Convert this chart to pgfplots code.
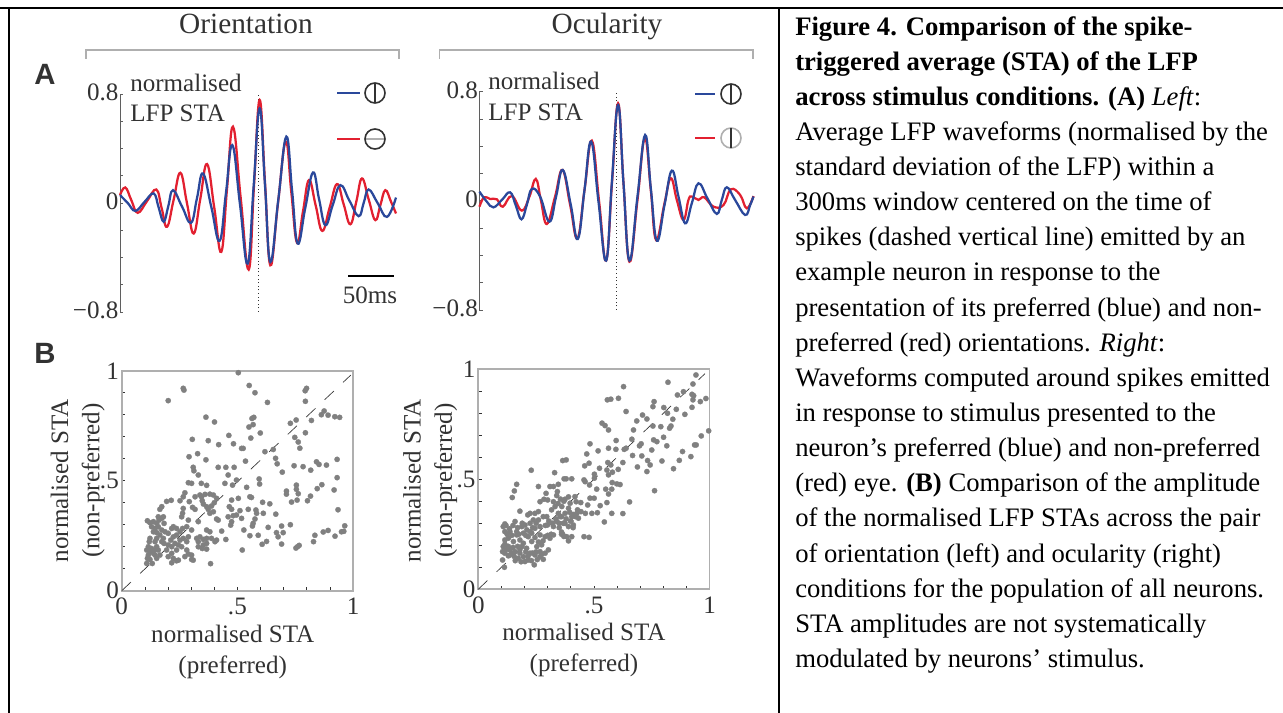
\documentclass[border=0pt]{standalone}
\usepackage{pgfplots}
\usepackage{fontspec}
\pgfplotsset{compat=1.18}
\setmainfont{Liberation Serif}
\newfontfamily\lsans{Liberation Sans}
\definecolor{cblue}{RGB}{42,72,155}
\definecolor{cred}{RGB}{226,32,48}
\definecolor{cdot}{RGB}{128,128,128}
\definecolor{ctxt}{RGB}{50,50,50}
\definecolor{cfr}{RGB}{175,175,175}
\definecolor{cax}{RGB}{95,95,95}
\newcommand{\fa}{\fontsize{18.8}{23.4}\selectfont}
\pgfplotstableread{
t v
-150 .058
-141.7 .001
-133.3 -.058
-123.6 .006
-113.4 .070
-108.0 -.033
-102.5 -.138
-97.5 -.023
-92.4 .094
-82.6 -.026
-72.8 -.146
-66.3 .036
-59.8 .217
-50.7 -.031
-41.7 -.278
-34.8 .075
-27.9 .425
-19.6 -.009
-11.2 -.445
-4.7 .126
1.8 .695
7.6 .131
13.4 -.433
22.1 .026
30.8 .487
37.0 .094
43.1 -.298
51.4 -.036
59.8 .224
66.3 .031
73.2 -.163
81.2 -.016
89.5 .131
99.3 .018
109.4 -.097
114.9 .001
120.3 .099
130.1 -.001
140.2 -.102
150 .040
}\tabOriBlue
\pgfplotstableread{
t v
-150 .058
-144.2 .114
-137.7 .021
-130.8 -.072
-120.7 .013
-110.5 .099
-104.7 -.038
-98.9 -.175
-91.7 .023
-84.4 .222
-77.2 -.001
-69.9 -.224
-62.7 .031
-55.4 .286
-47.5 -.036
-39.9 -.359
-33.7 .102
-27.2 .560
-18.8 .036
-10.1 -.489
-4.3 .134
1.8 .756
7.6 .151
13.4 -.457
21.7 -.004
30.1 .450
36.2 .080
42.4 -.293
48.9 -.062
55.4 .168
62.7 -.018
69.9 -.205
77.9 -.033
85.9 .139
93.1 -.009
100.4 -.156
106.9 .011
113.0 .180
120.3 .026
127.5 -.126
133.0 -.016
138.4 .094
144.6 .009
150 -.077
}\tabOriRed
\pgfplotstableread{
t v
-150 .067
-142.0 -.006
-134.7 -.048
-125.5 .006
-116.4 .062
-110.2 -.035
-104.0 -.136
-98.2 -.031
-92.7 .087
-83.6 .031
-73.4 -.153
-66.1 .031
-58.8 .226
-50.0 -.031
-42.3 -.280
-35.0 .079
-27.7 .434
-19.7 -.006
-11.3 -.438
-5.1 .128
1.8 .702
7.7 .128
14.2 -.438
23.0 .031
31.4 .482
37.6 .092
44.2 -.292
52.6 -.031
60.6 .221
67.9 .031
75.2 -.165
82.5 -.018
89.8 .128
99.6 .018
109.9 -.096
115.3 .006
120.8 .099
129.9 .006
140.9 -.104
146.4 -.031
150 .031
}\tabOcuBlue
\pgfplotstableread{
t v
-150 -.043
-144.9 .026
-138.3 .013
-131.0 .011
-124.5 -.043
-114.6 .035
-103.6 -.072
-95.3 .031
-88.3 .160
-82.8 .006
-76.3 -.170
-67.2 .031
-59.1 .226
-50.7 -.031
-42.7 -.275
-35.0 .079
-27.0 .441
-19.0 -.006
-11.3 -.438
-4.7 .153
1.8 .714
7.7 .128
14.2 -.446
23.0 .006
31.0 .458
37.6 .079
43.4 -.287
52.6 -.018
59.5 .165
66.1 .006
73.4 -.140
78.8 .006
82.5 .031
89.8 .006
96.0 .026
106.2 -.043
117.2 -.031
125.2 .084
135.4 .043
142.7 -.055
150 .035
}\tabOcuRed
\pgfplotstableread{
x y
.504 .991
.551 .933
.576 .900
.266 .920
.269 .912
.201 .864
.630 .856
.799 .920
.793 .909
.794 .861
.875 .817
.863 .800
.892 .798
.921 .791
.942 .788
.820 .774
.729 .761
.754 .776
.794 .718
.364 .789
.401 .767
.571 .788
.563 .783
.568 .755
.550 .744
.599 .717
.463 .706
.558 .694
.305 .688
.374 .682
.419 .664
.483 .668
.518 .647
.525 .647
.619 .632
.655 .642
.748 .697
.763 .676
.770 .648
.291 .609
.328 .623
.364 .595
.535 .589
.665 .602
.672 .577
.931 .597
.842 .586
.853 .574
.885 .571
.745 .568
.784 .564
.817 .548
.694 .539
.309 .561
.312 .545
.331 .526
.417 .561
.450 .561
.486 .561
.460 .526
.594 .508
.596 .485
.931 .514
.288 .491
.302 .488
.344 .488
.367 .479
.446 .488
.479 .480
.496 .503
.540 .470
.865 .482
.845 .464
.755 .480
.755 .461
.712 .453
.712 .439
.763 .441
.918 .458
.554 .427
.561 .424
.816 .430
.803 .409
.758 .412
.734 .403
.609 .402
.640 .395
.194 .406
.214 .411
.273 .445
.266 .427
.317 .427
.252 .409
.292 .405
.475 .412
.504 .420
.465 .382
.475 .370
.511 .364
.547 .370
.580 .367
.583 .352
.612 .352
.666 .348
.935 .368
.266 .374
.306 .379
.317 .370
.173 .382
.165 .370
.263 .352
.259 .336
.288 .321
.331 .314
.410 .326
.417 .321
.460 .336
.482 .341
.496 .344
.518 .329
.471 .298
.475 .314
.568 .306
.576 .326
.565 .294
.633 .288
.691 .294
.729 .300
.528 .276
.554 .250
.590 .252
.669 .264
.698 .264
.676 .245
.432 .271
.450 .233
.964 .295
.950 .268
.960 .270
.892 .274
.871 .267
.835 .252
.922 .248
.829 .223
.691 .212
.607 .211
.626 .224
.760 .200
.767 .206
.753 .194
.521 .185
.384 .123
.302 .142
.309 .139
.345 .427
.360 .438
.381 .439
.396 .435
.410 .420
.400 .400
.388 .385
.367 .382
.353 .394
.348 .409
.374 .370
.396 .359
.381 .352
.338 .435
.324 .238
.338 .245
.353 .233
.367 .238
.388 .238
.403 .223
.367 .276
.381 .268
.331 .200
.348 .192
.367 .189
.331 .223
.353 .208
.367 .215
.410 .230
.111 .318
.122 .309
.137 .314
.151 .306
.161 .321
.173 .329
.158 .336
.180 .336
.129 .291
.144 .283
.158 .291
.173 .276
.137 .268
.151 .264
.183 .306
.165 .253
.151 .238
.144 .223
.122 .238
.119 .223
.115 .200
.108 .185
.129 .192
.144 .185
.158 .185
.137 .170
.115 .162
.111 .147
.122 .142
.144 .162
.108 .124
.132 .124
.151 .147
.165 .162
.183 .215
.201 .208
.216 .200
.194 .185
.223 .245
.237 .253
.252 .230
.266 .238
.281 .223
.288 .245
.223 .291
.237 .283
.201 .261
.212 .230
.230 .215
.245 .208
.259 .200
.237 .185
.216 .170
.201 .155
.223 .147
.245 .139
.216 .127
.237 .136
.281 .185
.288 .167
.302 .162
.273 .155
.263 .283
.281 .291
.302 .276
.180 .238
.173 .223
.187 .268
.216 .283
.252 .268
.151 .200
.122 .177
}\tabScatOri
\pgfplotstableread{
x y
.941 .974
.820 .941
.928 .933
.628 .921
.887 .898
.861 .883
.924 .886
.931 .880
.928 .861
.984 .867
.960 .853
.558 .861
.573 .864
.606 .868
.760 .853
.755 .830
.802 .826
.639 .808
.856 .818
.818 .800
.893 .795
.924 .827
.841 .773
.710 .792
.729 .774
.685 .765
.535 .755
.548 .744
.563 .724
.755 .742
.789 .739
.833 .742
.827 .732
.671 .724
.596 .676
.664 .682
.758 .679
.772 .671
.801 .691
.704 .661
.697 .652
.815 .652
.483 .661
.518 .629
.563 .641
.595 .636
.639 .641
.631 .636
.964 .697
.942 .656
.935 .656
.883 .626
.919 .603
.869 .586
.844 .548
.750 .633
.707 .606
.667 .608
.469 .615
.380 .588
.365 .585
.794 .583
.732 .585
.743 .565
.729 .535
.688 .556
.560 .576
.573 .565
.460 .561
.479 .573
.524 .550
.556 .542
.563 .520
.580 .532
.625 .576
.605 .545
.330 .530
.229 .541
.371 .502
.380 .502
.404 .502
.457 .497
.462 .489
.502 .523
.502 .505
.481 .474
.579 .485
.599 .479
.613 .476
.762 .448
.166 .477
.156 .447
.147 .417
.260 .467
.310 .467
.325 .467
.346 .477
.342 .444
.339 .426
.293 .436
.375 .409
.418 .421
.443 .394
.483 .414
.501 .414
.512 .455
.551 .455
.577 .455
.563 .433
.556 .394
.527 .380
.654 .397
.577 .345
.625 .344
.545 .306
.515 .348
.473 .383
.491 .345
.463 .345
.444 .353
.429 .361
.426 .345
.457 .239
.479 .236
.404 .239
.382 .239
.365 .250
.180 .355
.214 .338
.224 .345
.260 .353
.267 .398
.284 .409
.300 .406
.325 .398
.332 .376
.346 .345
.361 .376
.375 .345
.390 .368
.397 .391
.404 .330
.411 .292
.390 .285
.375 .300
.339 .308
.325 .285
.299 .292
.281 .330
.260 .315
.245 .345
.224 .300
.202 .292
.188 .285
.159 .308
.115 .297
.108 .285
.137 .262
.115 .262
.166 .262
.195 .255
.224 .262
.245 .277
.267 .247
.289 .239
.310 .232
.325 .247
.115 .224
.130 .232
.152 .217
.180 .224
.216 .239
.231 .217
.253 .194
.274 .202
.303 .179
.289 .164
.267 .171
.281 .136
.108 .194
.105 .171
.115 .164
.137 .179
.159 .171
.188 .194
.209 .186
.224 .164
.245 .156
.180 .164
.195 .148
.202 .126
.216 .133
.173 .141
.105 .133
.113 .100
.242 .111
.267 .148
.368 .300
.354 .330
.317 .361
.296 .330
.144 .164
.130 .152
.195 .209
.166 .247
.231 .255
.238 .315
.267 .285
.423 .398
.433 .323
.996 .720
.120 .290
.135 .275
.150 .290
.170 .280
.190 .300
.210 .270
.235 .280
.250 .300
.125 .250
.145 .245
.175 .250
.205 .245
.245 .235
.115 .205
.130 .195
.150 .190
.170 .195
.120 .180
.135 .155
.155 .150
.180 .180
.205 .170
.215 .150
.235 .165
.250 .170
.160 .130
.185 .125
.230 .130
.255 .135
.275 .160
.260 .215
.280 .220
.300 .245
.315 .250
.290 .290
.305 .310
.320 .300
.335 .320
.350 .300
.360 .330
.380 .320
.395 .350
.410 .340
.345 .390
.370 .400
.355 .410
.390 .420
.400 .310
.350 .280
.360 .250
.370 .300
.400 .310
.420 .330
.370 .240
.390 .220
.360 .260
.410 .280
}\tabScatOcu
\pgfplotsset{
  lfpaxis/.style={
    scale only axis, xmin=-150, xmax=150, ymin=-0.8, ymax=0.8,
    width=207pt,
    axis x line=none, axis y line=left, axis line style={-,cax,line width=0.6pt},
    ytick={-0.8,0,0.8}, yticklabels={−0.8,0,0.8},
    minor ytick={-0.6,-0.4,-0.2,0.2,0.4,0.6},
    tick align=inside, tick style={cax,line width=0.5pt},
    major tick length=2.5pt, minor tick length=2.5pt,
    yticklabel style={font=\fa,text=ctxt,inner sep=1pt,yshift=1pt},
    clip=false,
  },
  curve/.style={line width=1.7pt,smooth,tension=0.72,no marks},
  scat/.style={
    scale only axis, xmin=0, xmax=1, ymin=0, ymax=1,
    width=173.5pt, height=165pt,
    axis line style={cfr,line width=1.2pt},
    xtick={0,0.5,1}, ytick={0,0.5,1},
    xticklabels={0,.5,1}, yticklabels={0,.5,1},
    minor xtick={0.1,0.2,0.3,0.4,0.6,0.7,0.8,0.9},
    minor ytick={0.1,0.2,0.3,0.4,0.6,0.7,0.8,0.9},
    tick align=inside, tick pos=left,
    tick style={ctxt,line width=0.5pt},
    major tick length=2.5pt, minor tick length=2.5pt,
    ticklabel style={font=\fa,text=ctxt,inner sep=1pt},
    xticklabel style={yshift=-4.5pt},
    yticklabel style={xshift=-1pt},
    xlabel style={font=\fa,text=ctxt,align=center,yshift=-2.5pt},
    clip=false,
  },
  dots/.style={only marks,color=cdot,mark=*,mark size=2pt,mark options={draw=cdot,fill=cdot,line width=0.2pt}},
  diag/.style={no marks,color=ctxt,line width=0.5pt,dash pattern=on 9.5pt off 9.5pt},
}
\begin{document}
\begin{tikzpicture}[x=0.75pt,y=0.75pt]
\useasboundingbox (0,0) rectangle (1283,713);
% table rules
\draw[black,line width=1.5pt] (0,705) -- (1283,705);
\draw[black,line width=1pt] (9,0) -- (9,705);
\draw[black,line width=1pt] (779,0) -- (779,705);
% headings and brackets
\node[font=\fontsize{22}{26}\selectfont,text=ctxt] at (246,689) {Orientation};
\node[font=\fontsize{22}{26}\selectfont,text=ctxt] at (607,686) {Ocularity};
\draw[cfr,line width=0.8pt] (86,654) -- (86,663) -- (399,663) -- (399,654);
\draw[cfr,line width=0.8pt] (439.5,654) -- (439.5,663) -- (753,663) -- (753,654);
\node[font=\lsans\bfseries\fontsize{22}{24}\selectfont,text=ctxt] at (45,639) {A};
\node[font=\lsans\bfseries\fontsize{22}{24}\selectfont,text=ctxt] at (45,360) {B};
% LFP panels
\begin{axis}[lfpaxis,at={(90pt,300.75pt)},anchor=south west,height=163.5pt]
\addplot[color=ctxt,line width=0.7pt,dotted] coordinates {(0,-0.8) (0,0.8)};
\addplot[curve,cred] table[x=t,y=v] {\tabOriRed};
\addplot[curve,cblue] table[x=t,y=v] {\tabOriBlue};
\end{axis}
\begin{axis}[lfpaxis,at={(359.6pt,302.25pt)},anchor=south west,width=205.5pt,height=163.8pt]
\addplot[color=ctxt,line width=0.7pt,dotted] coordinates {(0,-0.8) (0,0.8)};
\addplot[curve,cred] table[x=t,y=v] {\tabOcuRed};
\addplot[curve,cblue] table[x=t,y=v] {\tabOcuBlue};
\end{axis}
% annotations of LFP panels
\node[font=\fa,text=ctxt,anchor=west,inner sep=0pt] at (130,630) {normalised};
\node[font=\fa,text=ctxt,anchor=west,inner sep=0pt] at (130,600) {LFP STA};
\node[font=\fa,text=ctxt,anchor=west,inner sep=0pt] at (488,632) {normalised};
\node[font=\fa,text=ctxt,anchor=west,inner sep=0pt] at (488,601) {LFP STA};
\draw[black,line width=1pt] (348,437) -- (394,437);
\node[font=\fa,text=ctxt] at (370,418) {50ms};
% legend glyphs
\draw[cblue,line width=1.3pt] (337,620) -- (360,620);
\draw[ctxt,line width=1.2pt] (375,620) circle (10);
\draw[ctxt,line width=1.2pt] (375,610) -- (375,630);
\draw[cred,line width=1.3pt] (337,574) -- (360,574);
\draw[cfr,line width=1.2pt] (365,574) -- (385,574);
\draw[ctxt,line width=1.2pt] (375,574) circle (10);
\draw[cblue,line width=1.3pt] (695,619) -- (715,619);
\draw[ctxt,line width=1.2pt] (731,619) circle (10);
\draw[ctxt,line width=1.2pt] (731,609) -- (731,629);
\draw[cred,line width=1.3pt] (695,575) -- (715,575);
\draw[cfr,line width=1.2pt] (731,575) circle (10);
\draw[ctxt,line width=1.2pt] (731,565) -- (731,585);
% scatter panels
\begin{axis}[scat,at={(91.3pt,91.7pt)},anchor=south west,
  xlabel style={xshift=-3.5pt},
  ylabel style={font=\fa,text=ctxt,align=center,yshift=-8pt},
  xlabel={normalised STA\\(preferred)},ylabel={normalised STA\\(non-preferred)}]
\addplot[dots] table[x=x,y=y] {\tabScatOri};
\addplot[diag] coordinates {(0,0) (0.99,0.98)};
\end{axis}
\begin{axis}[scat,at={(358.7pt,92.8pt)},anchor=south west,
  xlabel style={xshift=-7.5pt},
  ylabel style={font=\fa,text=ctxt,align=center,yshift=-5pt,xshift=-1pt},
  xlabel={normalised STA\\(preferred)},ylabel={normalised STA\\(non-preferred)}]
\addplot[dots] table[x=x,y=y] {\tabScatOcu};
\addplot[diag] coordinates {(0,0) (0.98,0.98)};
\end{axis}
% caption
\node[anchor=north west,inner sep=0pt,align=left,
  font=\fontsize{20}{26.35}\selectfont,text=black] at (795,697) {%
\textbf{Figure 4. Comparison of the spike-}\\
\textbf{triggered average (STA) of the LFP}\\
\textbf{across stimulus conditions. (A)} \textit{Left}:\\
Average LFP waveforms (normalised by the\\
standard deviation of the LFP) within a\\
300ms window centered on the time of\\
spikes (dashed vertical line) emitted by an\\
example neuron in response to the\\
presentation of its preferred (blue) and non-\\
preferred (red) orientations. \textit{Right}:\\
Waveforms computed around spikes emitted\\
in response to stimulus presented to the\\
neuron’s preferred (blue) and non-preferred\\
(red) eye. \textbf{(B)} Comparison of the amplitude\\
of the normalised LFP STAs across the pair\\
of orientation (left) and ocularity (right)\\
conditions for the population of all neurons.\\
STA amplitudes are not systematically\\
modulated by neurons’ stimulus.};
\end{tikzpicture}
\end{document}
